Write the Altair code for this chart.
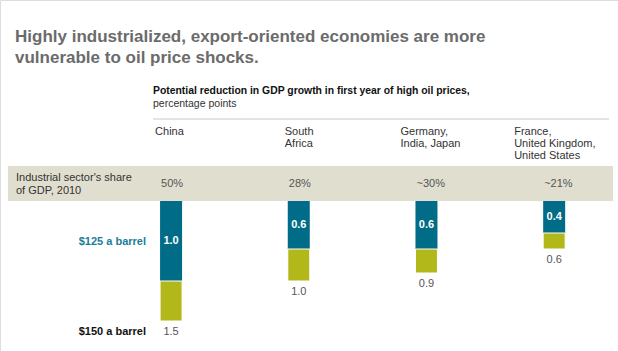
import altair as alt
import pandas as pd

# ---- data ----
categories = ["China", "South Africa", "Germany, India, Japan", "France, United Kingdom, United States"]
header_lines = ["China", "South\nAfrica", "Germany,\nIndia, Japan", "France,\nUnited Kingdom,\nUnited States"]
industry_share = ["50%", "28%", "~30%", "~21%"]
v125 = [1.0, 0.6, 0.6, 0.4]
v150 = [1.5, 1.0, 0.9, 0.6]

df = pd.DataFrame({
    "idx": list(range(len(categories))),
    "category": categories,
    "header": header_lines,
    "share": industry_share,
    "v125": v125,
    "v150": v150,
})
df["l125"] = [f"{v:.1f}" for v in v125]
df["l150"] = [f"{v:.1f}" for v in v150]

FONT = "Liberation Sans"
TEAL = "#006c87"
OLIVE = "#b3b81a"
BEIGE = "#e0dfcf"

W, H = 618, 351
x_scale = alt.Scale(domain=[-168.8 / 129.8, (W - 168.8) / 129.8], nice=False, zero=False)
y_scale = alt.Scale(domain=[-201 / 80, (H - 201) / 80], nice=False, zero=False, reverse=True)

X = alt.X("idx:Q", scale=x_scale, axis=None)

base = alt.Chart(df)
one = alt.Chart(pd.DataFrame({"k": [0]}))

band = one.mark_rect(color=BEIGE).encode(
    x=alt.value(8), x2=alt.value(613), y=alt.value(166), y2=alt.value(201)
)
topline = one.mark_rule(color="#c8c8c8", strokeWidth=1).encode(
    x=alt.value(153), x2=alt.value(609), y=alt.value(119)
)

teal_bars = base.mark_bar(size=22, color=TEAL).encode(
    x=X, y=alt.Y("v125:Q", scale=y_scale, axis=None), y2=alt.datum(0)
)
olive_bars = base.mark_bar(size=22, color=OLIVE, stroke="white", strokeWidth=1).encode(
    x=X, y=alt.Y("v125:Q", scale=y_scale, axis=None), y2="v150:Q"
)
inner_labels = base.transform_calculate(mid="datum.v125/2").mark_text(
    font=FONT, fontSize=11, fontWeight="bold", color="white", baseline="middle"
).encode(x=X, y=alt.Y("mid:Q", scale=y_scale, axis=None), text="l125:N")
outer_labels = base.mark_text(
    font=FONT, fontSize=11, color="#555555", baseline="middle", dy=11
).encode(x=X, y=alt.Y("v150:Q", scale=y_scale, axis=None), text="l150:N")

share_labels = base.mark_text(
    font=FONT, fontSize=11, color="#555555", align="left", baseline="middle", dx=-10
).encode(x=X, y=alt.value(184), text="share:N")

header_dx = [-16, -14, -26, -40]
header_layers = []
for i, dxv in enumerate(header_dx):
    header_layers.append(
        base.transform_filter(alt.datum.idx == i).mark_text(
            font=FONT, fontSize=11, color="#333333", align="left", baseline="middle",
            dx=dxv, lineBreak="\n", lineHeight=12
        ).encode(x=X, y=alt.value(132), text="header:N")
    )

def txt(s, x, y, size, color, weight="normal", align="left", lh=None):
    kw = dict(font=FONT, fontSize=size, color=color, fontWeight=weight, align=align,
              baseline="middle", lineBreak="\n")
    if lh:
        kw["lineHeight"] = lh
    return one.mark_text(**kw).encode(x=alt.value(x), y=alt.value(y), text=alt.value(s))

title = txt("Highly industrialized, export-oriented economies are more\nvulnerable to oil price shocks.",
            15, 37, 17, "#6b6b6b", "bold", lh=21)
subtitle = txt("Potential reduction in GDP growth in first year of high oil prices,", 153, 91, 10.4, "#111111", "bold")
subtitle2 = txt("percentage points", 153, 103.5, 10.5, "#333333")
share_head = txt("Industrial sector's share\nof GDP, 2010", 16, 178, 11, "#333333", lh=13)
lab125 = txt("$125 a barrel", 146, 241.5, 11, "#1a7d99", "bold", align="right")
lab150 = txt("$150 a barrel", 146, 332, 11, "#111111", "bold", align="right")

chart = alt.layer(
    band, topline, teal_bars, olive_bars, inner_labels, outer_labels, share_labels,
    *header_layers, title, subtitle, subtitle2, share_head, lab125, lab150
).properties(
    width=W, height=H, autosize=alt.AutoSizeParams(type="none"), padding=0
).configure_view(stroke=None).configure(background="white")

chart.save("out.html", embed_options={"renderer": "svg", "actions": False})
